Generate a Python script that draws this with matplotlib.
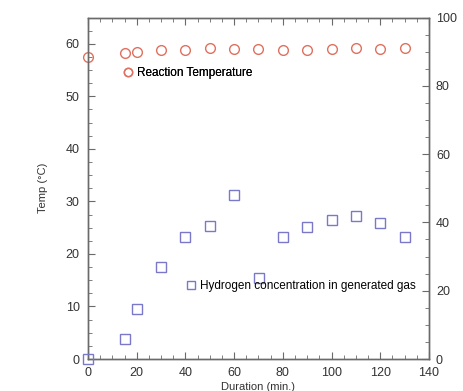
import matplotlib.pyplot as plt
from matplotlib.ticker import MultipleLocator
from matplotlib.lines import Line2D

plt.rcParams['font.family'] = ['Liberation Sans', 'DejaVu Sans']

# reaction temperature (left axis)
temp_time = [0, 15, 20, 30, 40, 50, 60, 70, 80, 90, 100, 110, 120, 130]
temp_vals = [57.5, 58.3, 58.5, 58.8, 58.8, 59.1, 59.0, 59.0, 58.9, 58.9, 59.0, 59.1, 59.0, 59.1]

# hydrogen concentration (right axis)
h2_time = [0, 15, 20, 30, 40, 50, 60, 70, 80, 90, 100, 110, 120, 130]
h2_vals = [0, 5.8, 14.7, 26.9, 35.7, 38.9, 48.0, 23.7, 35.7, 38.7, 40.6, 41.8, 39.9, 35.7]

red = '#e0705f'
blue = '#7a78c8'
grey = '#6a6a6a'

fig = plt.figure(figsize=(4.64, 3.91), dpi=100)
ax = fig.add_axes([88/464, 32/391, 341/464, 341.5/391])
ax2 = ax.twinx()

ax.plot(temp_time, temp_vals, 'o', mfc='none', mec=red, ms=7, mew=1.0, clip_on=False, zorder=5)
ax2.plot(h2_time, h2_vals, 's', mfc='none', mec=blue, ms=7, mew=1.0, clip_on=False, zorder=5)

ax.set_xlim(0, 140)
ax.set_ylim(0, 65)
ax2.set_ylim(0, 100)

ax.xaxis.set_major_locator(MultipleLocator(20))
ax.xaxis.set_minor_locator(MultipleLocator(5))
ax.yaxis.set_major_locator(MultipleLocator(10))
ax.yaxis.set_minor_locator(MultipleLocator(2.5))
ax2.yaxis.set_major_locator(MultipleLocator(20))
ax2.yaxis.set_minor_locator(MultipleLocator(5))

for a in (ax, ax2):
    for s in a.spines.values():
        s.set_color(grey)
        s.set_linewidth(1.0)

ax.tick_params(which='both', direction='in', top=True, right=False, colors=grey,
               labelcolor='#333333', labelsize=9, pad=6)
ax.tick_params(which='major', length=5)
ax.tick_params(which='minor', length=3)
ax2.tick_params(which='both', direction='in', colors=grey, labelcolor='#333333',
                labelsize=9, pad=5)
ax2.tick_params(which='major', length=5)
ax2.tick_params(which='minor', length=3)

ax.set_ylabel('Temp (°C)', fontsize=8, color='#333333', labelpad=13)
ax.set_xlabel('Duration (min.)', fontsize=8, color='#333333', labelpad=2)

h1 = Line2D([], [], ls='none', marker='o', mfc='none', mec=red, ms=6, mew=1.0)
h2 = Line2D([], [], ls='none', marker='s', mfc='none', mec=blue, ms=5.5, mew=1.0)
leg1 = ax.legend([h1], ['Reaction Temperature'], loc='center left',
                 bbox_to_anchor=(116/464, 1 - 73/391), bbox_transform=fig.transFigure,
                 frameon=False, fontsize=8.5, handlelength=1, handletextpad=0.3, borderpad=0)
ax.add_artist(leg1)
ax2.legend([h2], ['Hydrogen concentration in generated gas'], loc='center left',
           bbox_to_anchor=(179/464, 1 - 286/391), bbox_transform=fig.transFigure,
           frameon=False, fontsize=8.5, handlelength=1, handletextpad=0.3, borderpad=0)

fig.savefig('out.png', dpi=100)
